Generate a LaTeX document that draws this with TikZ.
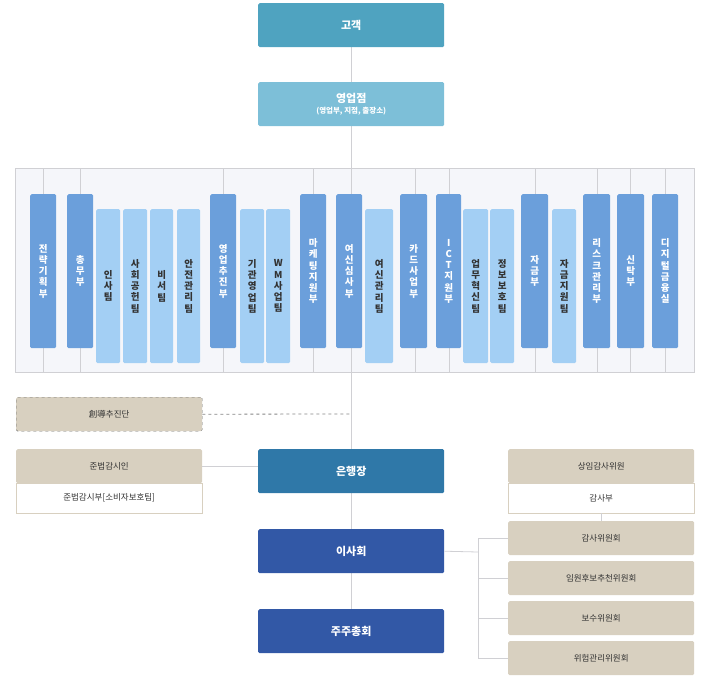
\documentclass[tikz,border=0pt]{standalone}
\usepackage{fontspec}
\setmainfont{Noto Sans CJK KR}
\usetikzlibrary{positioning}
\definecolor{custc}{HTML}{4FA3C0}
\definecolor{branchc}{HTML}{7DBFD8}
\definecolor{ceoc}{HTML}{2F78A8}
\definecolor{boardc}{HTML}{3258A6}
\definecolor{deptc}{HTML}{6B9FDB}
\definecolor{teamc}{HTML}{A3CFF4}
\definecolor{beige}{HTML}{D8D0C0}
\definecolor{linec}{HTML}{D0D0D4}
\definecolor{panelc}{HTML}{F5F6FA}
\definecolor{textc}{HTML}{333333}
\begin{document}
\begin{tikzpicture}[x=1pt,y=-1pt,
        mainbox/.style={rectangle, rounded corners=1.5pt, text=white, font=\bfseries\fontsize{11}{13}\selectfont,
            minimum width=186pt, minimum height=44pt, inner sep=0pt, anchor=north west},
        dept/.style={rectangle, rounded corners=1.5pt, fill=deptc, text=white, align=center,
            font=\bfseries\fontsize{9.5}{11.2}\selectfont, inner sep=0pt, anchor=north west},
        tanbox/.style={rectangle, rounded corners=1.5pt, fill=beige, text=textc, font=\fontsize{8.5}{10}\selectfont,
            minimum width=186pt, minimum height=34pt, inner sep=0pt, anchor=north west},
        whitebox/.style={rectangle, draw=beige, fill=white, text=textc, font=\fontsize{8.5}{10}\selectfont,
            minimum width=186pt, minimum height=30pt, inner sep=0pt, anchor=north west},
        conn/.style={draw=linec, line width=0.8pt}
    ]
        \useasboundingbox (0,0) rectangle (708,679);
        % panel
        \node (panel) [draw=linec, fill=panelc, minimum width=679pt, minimum height=204pt, inner sep=0pt, anchor=north west] at (15,168) {};
        \draw[conn] (351,46) -- (351,609);
        \foreach \x in {43,80,223,313,415,449,535,597,630,665}
            \draw[conn] (\x,168) -- (\x,372);

        % top
        \node (cust) [mainbox, fill=custc] at (258,3) {고객};
        \node (branch) [mainbox, fill=branchc, align=center] at (258,82) {영업점\\[-2pt]{\fontsize{7.5}{9}\selectfont(영업부, 지점, 출장소)}};

        % departments
        \foreach \x/\w/\t in {
            30/26/전\\략\\기\\획\\부,
            67/26/총\\무\\부,
            210/26/영\\업\\추\\진\\부,
            300/26/마\\케\\팅\\지\\원\\부,
            336/26/여\\신\\심\\사\\부,
            400/27/카\\드\\사\\업\\부,
            436/25/I\\C\\T\\지\\원\\부,
            521/27/자\\금\\부,
            583/27/리\\스\\크\\관\\리\\부,
            617/27/신\\탁\\부,
            652/26/디\\지\\털\\금\\융\\실}
            \node[dept, minimum width=\w pt, minimum height=154pt] at (\x,194) {\t};
        % teams
        \foreach \x/\w/\t in {
            96/24/인\\사\\팀,
            123/24/사\\회\\공\\헌\\팀,
            150/23/비\\서\\팀,
            177/23/안\\전\\관\\리\\팀,
            240/24/기\\관\\영\\업\\팀,
            266/24/W\\M\\사\\업\\팀,
            365/28/여\\신\\관\\리\\팀,
            463/25/업\\무\\혁\\신\\팀,
            490/24/정\\보\\보\\호\\팀,
            552/24/자\\금\\지\\원\\팀}
            \node[dept, fill=teamc, text=textc, minimum width=\w pt, minimum height=154pt] at (\x,209) {\t};

        % left side
        \node (drive) [tanbox, draw=textc!70, dashed] at (16,397) {創導추진단};
        \coordinate (drivein) at (351,414);
        \draw[conn, dashed, draw=textc!60] (drive.east) -- (drivein);
        \node (compl) [tanbox] at (16,449) {준법감시인};
        \node (compldept) [whitebox] at (16,483) {준법감시부[소비자보호팀]};

        % centre
        \node (ceo) [mainbox, fill=ceoc] at (258,449) {은행장};
        \node (board) [mainbox, fill=boardc] at (258,529) {이사회};
        \node (share) [mainbox, fill=boardc] at (258,609) {주주총회};
        \draw[conn] (compl.east) -- (ceo.west |- compl.east);

        % right side
        \node (audit) [tanbox] at (508,449) {상임감사위원};
        \node (auditdept) [whitebox] at (508,483) {감사부};
        \node (c1) [tanbox] at (508,521) {감사위원회};
        \node (c2) [tanbox] at (508,561) {임원후보추천위원회};
        \node (c3) [tanbox] at (508,601) {보수위원회};
        \node (c4) [tanbox] at (508,641) {위험관리위원회};
        \draw[conn] (auditdept.south) -- (c1.north);
        \coordinate (bus) at (478,552);
        \draw[conn] (board.east) -- (bus);
        \draw[conn] (bus |- c1.west) -- (bus |- c4.west);
        \foreach \c in {c1,c2,c3,c4}
            \draw[conn] (bus |- \c.west) -- (\c.west);
    \end{tikzpicture}
\end{document}
